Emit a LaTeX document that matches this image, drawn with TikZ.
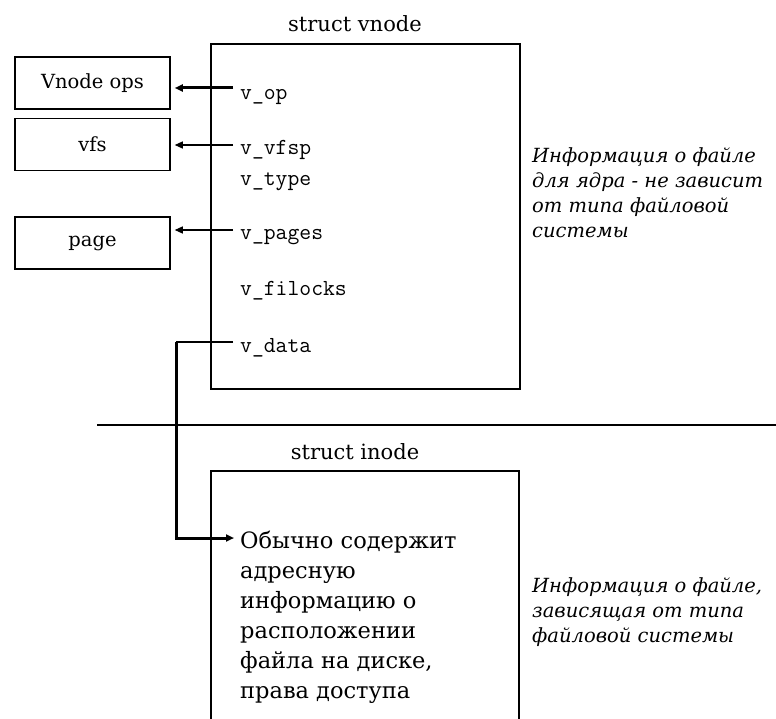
\documentclass[tikz,border=0pt]{standalone}
\usepackage{fontspec}
\setmainfont{DejaVu Serif}
\usetikzlibrary{arrows.meta,positioning}

\begin{document}
\begin{tikzpicture}
  [x=1pt,y=-1pt,
   box/.style={draw=black,line width=1.5pt,inner sep=0pt},
   side/.style={box,minimum width=155pt,minimum height=52pt,font=\fontsize{19.5}{22}\selectfont},
   field/.style={anchor=base west,inner sep=2pt,font=\fontsize{23}{26}\ttfamily},
   title/.style={inner sep=0pt,font=\fontsize{21}{24}\selectfont},
   ptr/.style={-{Triangle[length=8pt,width=7pt]},line width=1.2pt,shorten >=4pt},
   note/.style={anchor=north west,align=left,inner sep=0pt,font=\fontsize{19.5}{25}\selectfont\itshape}]
  \useasboundingbox (0,0) rectangle (776,719);

  % struct vnode
  \node[title] (vtitle) at (355,24) {struct vnode};
  \node[box,minimum width=309pt,minimum height=345pt] (vnode) at (365.5,216.5) {};

  \node[side] (ops)  at (92.5,83)  {Vnode ops};
  \node[side] (vfs)  at (92.5,144.5) {vfs};
  \node[side] (page) at (92.5,243) {page};

  \node[field] (vop)     at (238,100) {v\_op};
  \node[field] (vvfsp)   at (238,155) {v\_vfsp};
  \node[field] (vtype)   at (238,186) {v\_type};
  \node[field] (vpages)  at (238,240) {v\_pages};
  \node[field] (vfilocks) at (238,295) {v\_filocks};
  \node[field] (vdata)   at (238,352) {v\_data};

  % pointers to the left boxes
  \draw[ptr,line width=3pt] ([xshift=-5pt,yshift=12pt]vop.base west) coordinate (s) -- (ops.east |- s);
  \foreach \from/\to in {vvfsp/vfs, vpages/page}
    \draw[ptr] ([xshift=-5pt,yshift=10pt]\from.base west) coordinate (s) -- (\to.east |- s);

  \draw[line width=1.2pt] (97,425) -- (776,425);

  % struct inode
  \node[title] (ititle) at (355,452) {struct inode};
  \node[box,minimum width=308pt,minimum height=300pt] (inode) at (365,621) {};
  \node[anchor=north west,align=left,inner sep=2pt,font=\fontsize{22.5}{30}\selectfont] (itext) at (238,529)
    {Обычно содержит\\адресную\\информацию о\\расположении\\файла на диске,\\права доступа};

  \draw[line width=1.2pt] ([xshift=-5pt,yshift=10pt]vdata.base west) -- ++(-57,0) coordinate (knee);
  \draw[ptr,line width=3pt] (knee) |- ([yshift=-9pt]itext.north west);

  % notes
  \node[note] (knote) at (532,147) {Информация о файле\\для ядра - не зависит\\от типа файловой\\системы};
  \node[note] (fnote) at (532,577) {Информация о файле,\\зависящая от типа\\файловой системы};
\end{tikzpicture}
\end{document}
